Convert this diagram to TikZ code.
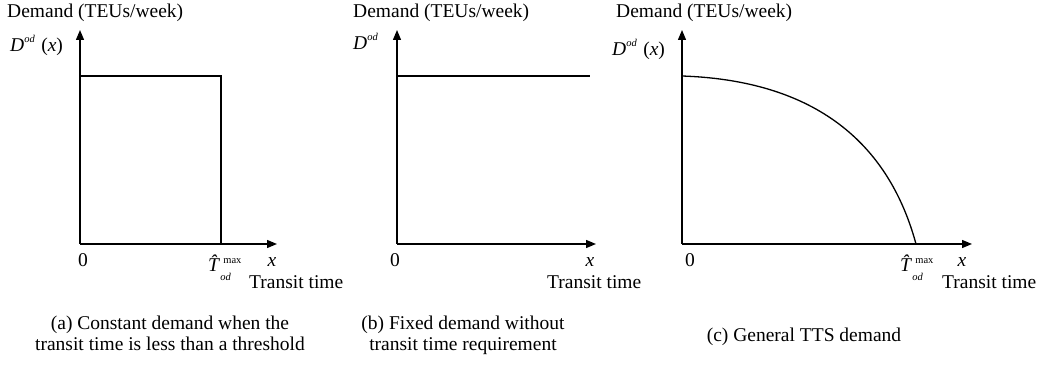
\documentclass[tikz,border=0pt]{standalone}
\usepackage{fontspec}
\setmainfont{Liberation Serif}
\usetikzlibrary{arrows.meta}

% small size for super- and subscripts
\newcommand{\supsz}{\fontsize{10.5}{11}\selectfont}
% D^{od}
\newcommand{\Dod}{\textit{D}\raisebox{0.5em}{\supsz\itshape od}}
% \hat T^{max}_{od}
\newcommand{\Tmax}{\textit{\^T}\kern-3pt\makebox[19pt][l]{\makebox[0pt][l]{\raisebox{0.45em}{\supsz max}}\kern-3pt\raisebox{-0.42em}{\supsz\itshape od}}}

\begin{document}
\begin{tikzpicture}[x=1pt,y=-1pt,
  axis/.style={line width=1.3pt,-{Triangle[length=10pt,width=8pt]}},
  plotline/.style={line width=1.3pt},
  lbl/.style={inner sep=0pt,font=\fontsize{19.5}{20.5}\selectfont},
  capt/.style={lbl,align=center,anchor=base}]
\useasboundingbox (0,0) rectangle (1041,379);

% ---------- (a) constant demand up to a threshold ----------
\coordinate (Oa) at (80,244);
\coordinate (Ya) at (80,30);
\coordinate (Xa) at (277,244);
\coordinate (Ta) at (80,76);
\coordinate (Ra) at (221,76);
\coordinate (Ba) at (221,244);
\draw[axis] (Oa) -- (Ya);
\draw[axis] (Oa) -- (Xa);
\draw[plotline] (Ta) -- (Ra) -- (Ba);
\node[lbl,anchor=base west] (qa) at (7,18) {Demand (TEUs/week)};
\node[lbl,anchor=base west] (da) at (10,52) {\Dod\,\,(\textit{x})};
\node[lbl,anchor=base] (za) at (83,267) {0};
\node[lbl,anchor=base west] (ta) at (208,272) {\Tmax};
\node[lbl,anchor=base] (xa) at (272,267) {\textit{x}};
\node[lbl,anchor=base west] (ka) at (249,289) {Transit time};
\node[capt] (ca) at (170,350) {(a) Constant demand when the\\transit time is less than a threshold};

% ---------- (b) fixed demand ----------
\coordinate (Ob) at (397,244);
\coordinate (Yb) at (397,30);
\coordinate (Xb) at (596,244);
\coordinate (Tb) at (397,76);
\coordinate (Rb) at (590,76);
\draw[axis] (Ob) -- (Yb);
\draw[axis] (Ob) -- (Xb);
\draw[plotline] (Tb) -- (Rb);
\node[lbl,anchor=base west] (qb) at (353,18) {Demand (TEUs/week)};
\node[lbl,anchor=base west] (db) at (353,50) {\Dod};
\node[lbl,anchor=base] (zb) at (395,267) {0};
\node[lbl,anchor=base] (xb) at (590,267) {\textit{x}};
\node[lbl,anchor=base west] (kb) at (547,289) {Transit time};
\node[capt] (cb) at (463,350) {(b) Fixed demand without\\transit time requirement};

% ---------- (c) general TTS demand ----------
\coordinate (Oc) at (682,244);
\coordinate (Yc) at (682,30);
\coordinate (Xc) at (972,244);
\coordinate (Tc) at (682,76);
\coordinate (Bc) at (916,244);
\draw[axis] (Oc) -- (Yc);
\draw[axis] (Oc) -- (Xc);
\draw[plotline] (Tc) .. controls (800,80) and (885,130) .. (Bc);
\node[lbl,anchor=base west] (qc) at (616,18) {Demand (TEUs/week)};
\node[lbl,anchor=base west] (dc) at (612,56) {\Dod\,\,(\textit{x})};
\node[lbl,anchor=base] (zc) at (690,267) {0};
\node[lbl,anchor=base west] (tc) at (900,272) {\Tmax};
\node[lbl,anchor=base] (xc) at (962,267) {\textit{x}};
\node[lbl,anchor=base west] (kc) at (942,289) {Transit time};
\node[capt] (cc) at (804,341) {(c) General TTS demand};
\end{tikzpicture}
\end{document}
